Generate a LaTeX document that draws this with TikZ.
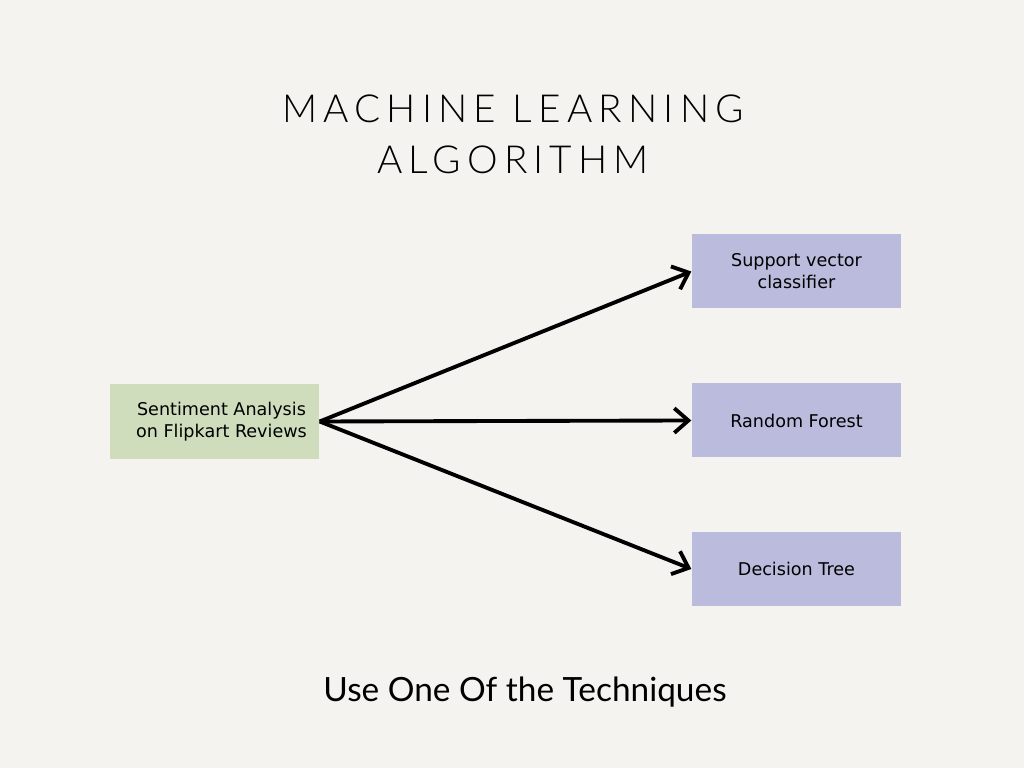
\documentclass[tikz,border=0pt]{standalone}
\usepackage{fontspec}
\setmainfont{Lato}
\newfontfamily\titlefont[LetterSpace=16]{Lato Light}
\newfontfamily\boxfont{DejaVu Sans}
\usetikzlibrary{arrows.meta}

\definecolor{fondo}{HTML}{F5F3EF}
\definecolor{verde}{HTML}{CFDDBD}
\definecolor{lila}{HTML}{BBBBDD}

\tikzset{
  caja/.style={minimum width=2.09cm, minimum height=0.74cm, inner sep=0pt,
    align=center, font=\boxfont\fontsize{5}{6.3}\selectfont},
  flecha/.style={line width=1.1pt, -{Straight Barb[length=4pt,width=7pt,line width=1.1pt]}}
}

\begin{document}
\begin{tikzpicture}
\useasboundingbox[fill=fondo] (0,0) rectangle (10.24,7.68);

%Titulo
\node (titulo) at (5.13,6.34) [align=center, font=\titlefont\fontsize{11}{14.5}\selectfont]
  {MACHINE LEARNING\\ALGORITHM};

%Cajas
\node[caja, fill=verde, minimum height=0.75cm] (fuente) at (2.145,3.465) {};
\node (fuentetxt) at ([xshift=0.07cm]fuente.center) [caja, minimum width=0pt] {Sentiment Analysis\\on Flipkart Reviews};
\node[caja, fill=lila] (svc) at (7.965,4.965) {Support vector\\classifier};
\node[caja, fill=lila] (rf) at (7.965,3.475) {Random Forest};
\node[caja, fill=lila] (dt) at (7.965,1.99) {Decision Tree};

%Flechas
\draw[flecha] (fuente.east) -- (svc.west);
\draw[flecha] (fuente.east) -- (rf.west);
\draw[flecha] (fuente.east) -- (dt.west);

%Pie
\node (pie) at (5.25,0.76) [font=\fontsize{9.5}{11}\selectfont] {Use One Of the Techniques};
\end{tikzpicture}
\end{document}
